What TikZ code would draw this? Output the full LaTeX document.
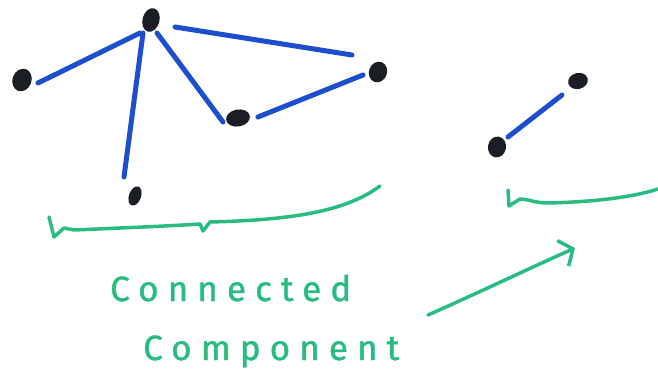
\documentclass[tikz,border=0pt]{standalone}
\usepackage{fontspec}
\setmainfont{Fira Sans}
\newfontfamily\handfont[LetterSpace=26,FakeBold=1.2]{Fira Sans}
\usetikzlibrary{shapes.geometric,arrows.meta}
\definecolor{pen}{RGB}{28,78,205}
\definecolor{mark}{RGB}{40,188,128}
\definecolor{ink}{RGB}{28,30,38}
\begin{document}
\begin{tikzpicture}[x=1pt,y=-1pt,
  dot/.style={ellipse,fill=ink,draw=none,inner sep=0pt},
  edge/.style={draw=pen,line width=5pt,line cap=round},
  brace/.style={draw=mark,line width=3.5pt,line cap=round,line join=round},
  lbl/.style={text=mark,inner sep=0pt,font=\handfont\fontsize{35}{40}\selectfont},
  arr/.style={draw=mark,line width=3.5pt,line cap=round,line join=round,
    -{Straight Barb[length=11pt,width=28pt,line width=3.5pt]}}]
\path[fill=white] (0,0) rectangle (658,377);
\useasboundingbox (0,0) rectangle (658,377);
% vertices
\node[dot,minimum width=17pt,minimum height=24pt,rotate=-15] (A) at (151,20) {};
\node[dot,minimum width=19pt,minimum height=23pt,rotate=-20] (B) at (22,80) {};
\node[dot,minimum width=24pt,minimum height=17pt,rotate=10] (C) at (238,118) {};
\node[dot,minimum width=18pt,minimum height=21pt,rotate=-20] (D) at (378,72) {};
\node[dot,minimum width=12pt,minimum height=20pt,rotate=-20] (E) at (135,196) {};
\node[dot,minimum width=20pt,minimum height=16pt,rotate=15] (F) at (578,81) {};
\node[dot,minimum width=18pt,minimum height=21pt,rotate=-10] (G) at (497,147) {};
% edges
\draw[edge] ([shift={(-11,13)}]A.center) -- ([shift={(16,3)}]B.center);
\draw[edge] ([shift={(-8,13)}]A.center) -- ([shift={(-11,-19)}]E.center);
\draw[edge] ([shift={(6,13)}]A.center) -- ([shift={(-15,4)}]C.center);
\draw[edge] ([shift={(24,7)}]A.center) -- ([shift={(-26,-17)}]D.center);
\draw[edge] ([shift={(20,-1)}]C.center) -- ([shift={(-15,3)}]D.center);
\draw[edge] ([shift={(11,-10)}]G.center) -- ([shift={(-16,14)}]F.center);
% braces
\draw[brace] (49,217) -- (54,237) -- (64,228) -- (74,230)
  .. controls (120,228) and (170,226) .. (200,224) -- (203,231) -- (210,222)
  .. controls (290,220) and (345,212) .. (380,186);
\draw[brace] (508,190) -- (509,206) -- (520,199)
  .. controls (528,199) and (535,203) .. (548,203)
  .. controls (590,202) and (630,198) .. (658,189);
% labels
\node[lbl,anchor=base west] (t1) at (110,301) {Connected};
\node[lbl,anchor=base west] (t2) at (143,360) {Component};
\coordinate (arrS) at (428,315);
\coordinate (arrE) at (575,248);
\draw[arr] (arrS) .. controls (480,292) and (530,268) .. (arrE);
\end{tikzpicture}
\end{document}
